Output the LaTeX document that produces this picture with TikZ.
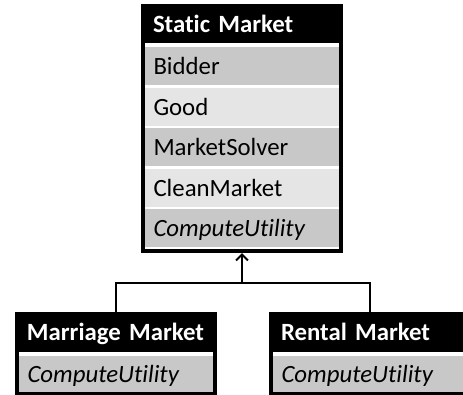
\documentclass[tikz,border=0pt]{standalone}
\usepackage{fontspec}
\setmainfont{Carlito}[Ligatures=NoCommon]
\usepackage{tikz}
\usepackage{xcolor}
\usetikzlibrary{positioning, arrows.meta}

\definecolor{rowdark}{RGB}{200,200,200}
\definecolor{rowlight}{RGB}{229,229,229}

\newcommand{\umlfont}{\fontsize{24.8}{28}\selectfont}

\tikzset{
    classbox/.style={draw=black, line width=4pt, fill=white, inner sep=0pt, minimum width=198pt},
    classname/.style={fill=black, text=white, font=\umlfont\bfseries, inner xsep=12pt, inner ysep=0pt,
        text width=178pt, align=left, text height=19pt, text depth=2pt, minimum height=39pt},
    member/.style={fill=#1, text=black, font=\umlfont, inner xsep=8.5pt, inner ysep=0pt,
        text width=177pt, align=left, text height=19pt, text depth=2pt, minimum height=38pt},
    inherit/.style={draw=black, line width=2pt}
}

\begin{document}
\begin{tikzpicture}[x=1pt, y=-1pt]
            \useasboundingbox (0,0) rectangle (463,394);

            % base class
            \node[classbox, minimum height=245pt] (staticbox) at (242, 128.5) {};
            \node[classname] (static) at (242, 23.5) {Static Market};
            \node[member=rowdark] (bidder) at (242, 66) {Bidder};
            \node[member=rowlight] (good) at (242, 106.6) {Good};
            \node[member=rowdark] (solver) at (242, 147.2) {MarketSolver};
            \node[member=rowlight] (clean) at (242, 187.8) {CleanMarket};
            \node[member=rowdark] (sutil) at (242, 228.4) {\itshape ComputeUtility};

            % derived classes
            \node[classbox, minimum height=80pt] (marriagebox) at (116, 354) {};
            \node[classname, minimum height=40pt] (marriage) at (116, 332) {Marriage Market};
            \node[member=rowdark, minimum height=36pt] (mutil) at (116, 374) {\itshape ComputeUtility};

            \node[classbox, minimum height=80pt] (rentalbox) at (370, 354) {};
            \node[classname, minimum height=40pt] (rental) at (370, 332) {Rental Market};
            \node[member=rowdark, minimum height=36pt] (rutil) at (370, 374) {\itshape ComputeUtility};

            \coordinate (fork) at (242, 283);
            \draw[inherit] (marriage.north) |- (fork) -| (rental.north);
            \draw[inherit, -{Straight Barb[length=6pt, width=12pt]}] (fork) -- (staticbox.south);
        \end{tikzpicture}
\end{document}
